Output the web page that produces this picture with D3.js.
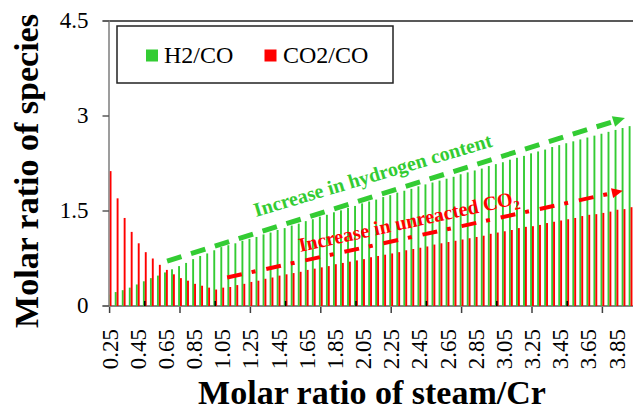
<!DOCTYPE html>
<html>
<head>
<meta charset="utf-8">
<script src="https://cdn.jsdelivr.net/npm/d3@7"></script>
<style>
  html, body { margin: 0; padding: 0; background: #fff; }
  svg { display: block; }
  svg text { font-family: "Liberation Serif", "Times New Roman", Tinos, serif; }
</style>
</head>
<body>
<svg id="chart" width="633" height="414"></svg>
<script>
// Molar ratio of steam/Cr (category axis)
const steamCr = ["0.25","0.30","0.35","0.40","0.45","0.50","0.55","0.60","0.65","0.70",
  "0.75","0.80","0.85","0.90","0.95","1.00","1.05","1.10","1.15","1.20",
  "1.25","1.30","1.35","1.40","1.45","1.50","1.55","1.60","1.65","1.70",
  "1.75","1.80","1.85","1.90","1.95","2.00","2.05","2.10","2.15","2.20",
  "2.25","2.30","2.35","2.40","2.45","2.50","2.55","2.60","2.65","2.70",
  "2.75","2.80","2.85","2.90","2.95","3.00","3.05","3.10","3.15","3.20",
  "3.25","3.30","3.35","3.40","3.45","3.50","3.55","3.60","3.65","3.70",
  "3.75","3.80","3.85","3.90","3.95"];

// H2/CO molar ratio
const h2co = [0.18,0.22,0.25,0.29,0.34,0.39,0.44,0.48,0.53,0.58,
  0.63,0.68,0.74,0.79,0.83,0.88,0.93,0.96,0.99,1.03,
  1.06,1.09,1.13,1.16,1.20,1.23,1.27,1.30,1.34,1.37,
  1.41,1.44,1.48,1.51,1.55,1.58,1.62,1.65,1.68,1.72,
  1.75,1.79,1.82,1.85,1.89,1.92,1.95,1.98,2.01,2.04,
  2.08,2.11,2.14,2.17,2.21,2.24,2.27,2.31,2.34,2.37,
  2.41,2.44,2.47,2.51,2.54,2.57,2.60,2.63,2.66,2.69,
  2.72,2.75,2.78,2.81,2.84];

// CO2/CO molar ratio
const co2co = [2.13,1.70,1.39,1.17,0.99,0.85,0.75,0.65,0.57,0.50,
  0.44,0.40,0.35,0.32,0.29,0.26,0.29,0.30,0.33,0.35,
  0.38,0.40,0.43,0.45,0.48,0.50,0.52,0.54,0.57,0.59,
  0.61,0.63,0.66,0.68,0.70,0.72,0.74,0.77,0.79,0.81,
  0.83,0.85,0.88,0.90,0.92,0.94,0.97,0.99,1.01,1.03,
  1.05,1.07,1.09,1.11,1.14,1.16,1.18,1.20,1.23,1.25,
  1.26,1.28,1.31,1.33,1.35,1.37,1.39,1.42,1.44,1.45,
  1.47,1.49,1.52,1.53,1.56];

const seriesNames = ["H2/CO", "CO2/CO"];
const seriesColors = ["#33cc33", "#ff0000"];
const yTicks = [0, 1.5, 3, 4.5];
const xLabelCats = ["0.25","0.45","0.65","0.85","1.05","1.25","1.45","1.65","1.85","2.05",
  "2.25","2.45","2.65","2.85","3.05","3.25","3.45","3.65","3.85"];
const majorTickCats = ["0.25","0.75","1.25","1.75","2.25","2.75","3.25","3.75"];
const minorTickCats = ["0.50","1.00","1.50","2.00","2.50","3.00","3.50"];

const FONT = "'Liberation Serif', 'Times New Roman', Tinos, serif";
const svg = d3.select("#chart");
const W = 633;
const plot = { left: 109, top: 21, bottom: 306, right: 640 };

const x = d3.scalePoint().domain(steamCr).range([109.6, 109.6 + 7.04 * (steamCr.length - 1)]);
const xAt = i => x(steamCr[0]) + i * x.step();   // fractional category position
const y = d3.scaleLinear().domain([0, 4.5]).range([plot.bottom, plot.top]);
const offset = d3.scaleBand().domain(seriesNames).range([-1.9, 1.9]).padding(0);
const color = d3.scaleOrdinal().domain(seriesNames).range(seriesColors);

// top border of the plot area
svg.append("line")
  .attr("x1", 103).attr("x2", W).attr("y1", y(4.5)).attr("y2", y(4.5))
  .attr("stroke", "#595959").attr("stroke-width", 2);

// Y axis
const yAxis = d3.axisLeft(y).tickValues(yTicks).tickSize(6.5).tickPadding(14)
  .tickFormat(d3.format("~g")).offset(0);
const yG = svg.append("g").attr("transform", `translate(${plot.left},0)`).call(yAxis);
yG.attr("font-family", FONT);
yG.select(".domain").attr("stroke", "#858585").attr("stroke-width", 1.6);
yG.selectAll(".tick line").attr("stroke", "#595959").attr("stroke-width", 1.5);
yG.selectAll(".tick text").attr("font-size", 23).attr("fill", "#000");

// X axis line
svg.append("line")
  .attr("x1", plot.left).attr("x2", W).attr("y1", y(0)).attr("y2", y(0))
  .attr("stroke", "#858585").attr("stroke-width", 2);

// clip bars to the plot area
svg.append("defs").append("clipPath").attr("id", "plotClip")
  .append("rect").attr("x", plot.left + 0.6).attr("y", 0)
  .attr("width", plot.right - plot.left).attr("height", plot.bottom);

const rows = steamCr.map((c, i) => ({ cat: c, "H2/CO": h2co[i], "CO2/CO": co2co[i] }));

const barsG = svg.append("g").attr("clip-path", "url(#plotClip)");
seriesNames.forEach(s => {
  barsG.append("g").selectAll("rect").data(rows).join("rect")
    .attr("x", d => x(d.cat) + offset(s))
    .attr("width", offset.bandwidth())
    .attr("y", d => y(d[s]))
    .attr("height", d => y(0) - y(d[s]))
    .attr("fill", color(s));
});

// X axis: outward major ticks
const xMajor = d3.axisBottom(x).tickValues(majorTickCats).tickSize(6).tickFormat("").offset(0);
const xmG = svg.append("g").attr("transform", `translate(0,${y(0) + 1})`).call(xMajor);
xmG.select(".domain").remove();
xmG.selectAll(".tick line").attr("stroke", "#404040").attr("stroke-width", 1.5);

// X axis: inward minor ticks
const xMinor = d3.axisBottom(x).tickValues(minorTickCats).tickSize(-5).tickFormat("").offset(0);
const xnG = svg.append("g").attr("transform", `translate(0,${y(0)})`).call(xMinor);
xnG.select(".domain").remove();
xnG.selectAll(".tick line").attr("stroke", "#000").attr("stroke-width", 1.5);

// X tick labels (vertical)
svg.append("g").selectAll("text").data(xLabelCats).join("text")
  .attr("transform", d => `translate(${x(d)},329) rotate(-90)`)
  .attr("text-anchor", "end").attr("dy", "0.35em")
  .attr("font-family", FONT).attr("font-size", 23).attr("fill", "#000")
  .text(d => d);

// Axis titles
svg.append("text")
  .attr("x", 372).attr("y", 404).attr("text-anchor", "middle")
  .attr("font-family", FONT).attr("font-size", 34).attr("font-weight", "bold").attr("fill", "#000")
  .text("Molar ratio of steam/Cr");
svg.append("text")
  .attr("transform", "translate(38,171) rotate(-90)")
  .attr("text-anchor", "middle")
  .attr("font-family", FONT).attr("font-size", 34).attr("font-weight", "bold").attr("fill", "#000")
  .text("Molar ratio of species");

// Legend
const leg = svg.append("g");
leg.append("rect").attr("x", 117).attr("y", 26).attr("width", 276).attr("height", 57)
  .attr("fill", "#fff").attr("stroke", "#222").attr("stroke-width", 1.5);
const legItems = [{ name: "H2/CO", sx: 146, tx: 164 }, { name: "CO2/CO", sx: 264.5, tx: 283 }];
legItems.forEach(it => {
  leg.append("rect").attr("x", it.sx).attr("y", 49.5).attr("width", 12).attr("height", 12)
    .attr("fill", color(it.name));
  leg.append("text").attr("x", it.tx).attr("y", 62.5)
    .attr("font-family", FONT).attr("font-size", 24).attr("fill", "#000")
    .text(it.name);
});

// Trend arrows
function trendArrow(i1, v1, i2, v2, col, width, dash, headL, headW) {
  const x1 = xAt(i1), y1 = y(v1), x2 = xAt(i2), y2 = y(v2);
  const len = Math.hypot(x2 - x1, y2 - y1);
  const ux = (x2 - x1) / len, uy = (y2 - y1) / len;
  const bx = x2 - ux * headL, by = y2 - uy * headL;
  svg.append("line").attr("x1", x1).attr("y1", y1).attr("x2", bx).attr("y2", by)
    .attr("stroke", col).attr("stroke-width", width).attr("stroke-dasharray", dash);
  svg.append("path")
    .attr("d", `M${x2},${y2}L${bx - uy * headW},${by + ux * headW}L${bx + uy * headW},${by - ux * headW}Z`)
    .attr("fill", col);
}
trendArrow(8.17, 0.71, 73.2, 2.97, "#33cc33", 5, "15,10", 12, 5.5);
trendArrow(16.7, 0.45, 72.9, 1.82, "#ff0000", 4, "15,10,4,11", 11, 5);

// Trend labels
function trendLabel(i, v, angle, col) {
  return svg.append("text")
    .attr("transform", `translate(${xAt(i)},${y(v)}) rotate(${angle})`)
    .attr("font-family", FONT).attr("font-size", 20).attr("font-weight", "bold").attr("fill", col);
}
trendLabel(20.8, 1.405, -16.6, "#33cc33").text("Increase in hydrogen content");
const rl = trendLabel(27.07, 0.853, -12.4, "#ff0000");
rl.append("tspan").text("Increase in unreacted CO");
rl.append("tspan").attr("font-size", 13).attr("dy", 5).text("2");
</script>
</body>
</html>
